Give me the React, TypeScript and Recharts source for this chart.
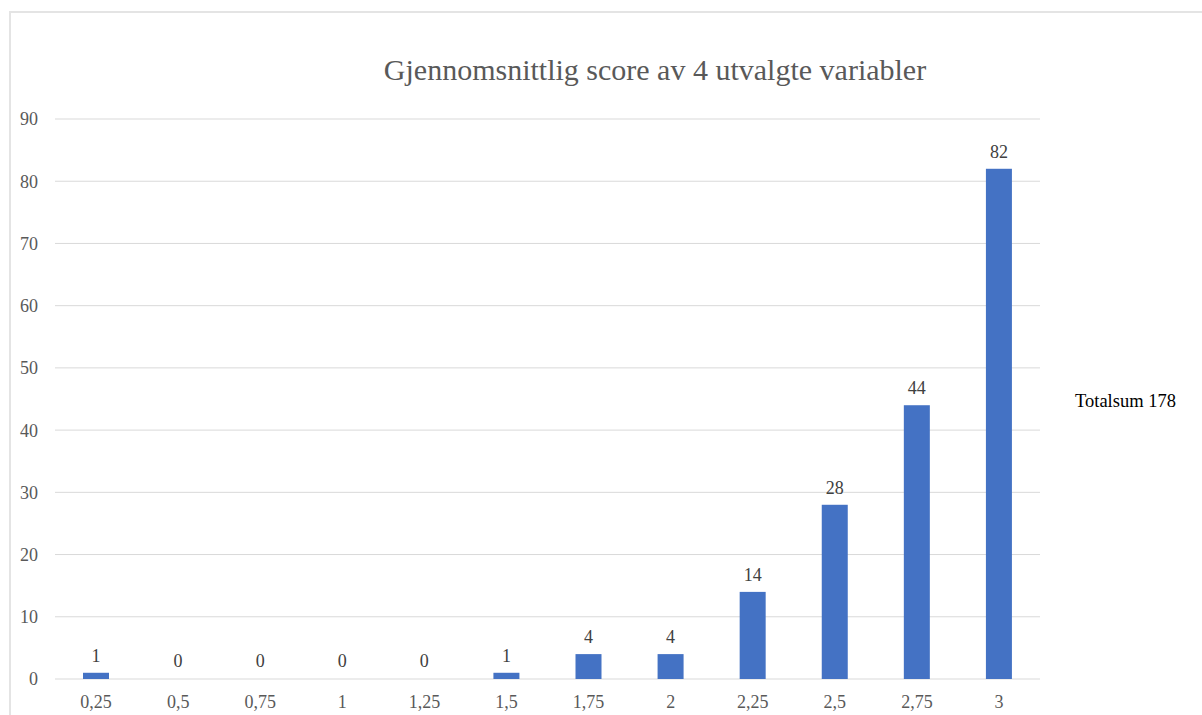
import React from 'react';
import { BarChart, Bar, XAxis, YAxis, CartesianGrid, LabelList } from 'recharts';

// Average score buckets and number of respondents
const categories = ['0,25', '0,5', '0,75', '1', '1,25', '1,5', '1,75', '2', '2,25', '2,5', '2,75', '3'];
const counts = [1, 0, 0, 0, 0, 1, 4, 4, 14, 28, 44, 82];
const yTicks = [0, 10, 20, 30, 40, 50, 60, 70, 80, 90];

const FONT = '"Liberation Serif", "Times New Roman", serif';

// Skip drawing empty bars, but keep them so the 0 labels still show
const BarShape = (props: any) => {
    const { x, y, width, height, fill, value } = props;
    if (!value) return null;
    return <rect x={x} y={y} width={width} height={height} fill={fill} />;
};

export default function App() {
    const data = categories.map((name, i) => ({ name, value: counts[i] }));

    return (
        <div style={{ position: 'absolute', left: 0, top: 0, width: 1202, height: 715, overflow: 'hidden', background: '#fff', fontFamily: FONT }}>
            {/* Frame */}
            <div style={{ position: 'absolute', left: 9, top: 11, width: 1202, height: 715, borderTop: '2px solid #e4e4e4', borderLeft: '2px solid #e4e4e4' }} />

            {/* Title */}
            <div style={{ position: 'absolute', left: 55, width: 1200, top: 50, textAlign: 'center', fontSize: 30, color: '#595959', lineHeight: '40px' }}>
                Gjennomsnittlig score av 4 utvalgte variabler
            </div>

            <div style={{ position: 'absolute', left: 0, top: 0 }}>
                <BarChart width={1202} height={715} data={data} margin={{ top: 119, right: 162, bottom: 6, left: 0 }}>
                    <CartesianGrid horizontal vertical={false} stroke="#d9d9d9" />
                    <XAxis
                        dataKey="name"
                        height={30}
                        axisLine={false}
                        tickLine={false}
                        tickSize={0}
                        tickMargin={16}
                        interval={0}
                        tick={{ fill: '#595959', fontSize: 18, fontFamily: FONT }}
                    />
                    <YAxis
                        width={55}
                        domain={[0, 90]}
                        ticks={yTicks}
                        axisLine={false}
                        tickLine={false}
                        tickSize={0}
                        tickMargin={17}
                        tick={{ fill: '#595959', fontSize: 18, fontFamily: FONT }}
                    />
                    <Bar dataKey="value" fill="#4472C4" barSize={26} minPointSize={1} shape={BarShape} isAnimationActive={false}>
                        <LabelList dataKey="value" position="top" offset={11} fill="#404040" fontSize={18} fontFamily={FONT} />
                    </Bar>
                </BarChart>
            </div>

            {/* Side note */}
            <div style={{ position: 'absolute', left: 1075, top: 391, fontSize: 18.5, color: '#000' }}>
                Totalsum 178
            </div>
        </div>
    );
}
